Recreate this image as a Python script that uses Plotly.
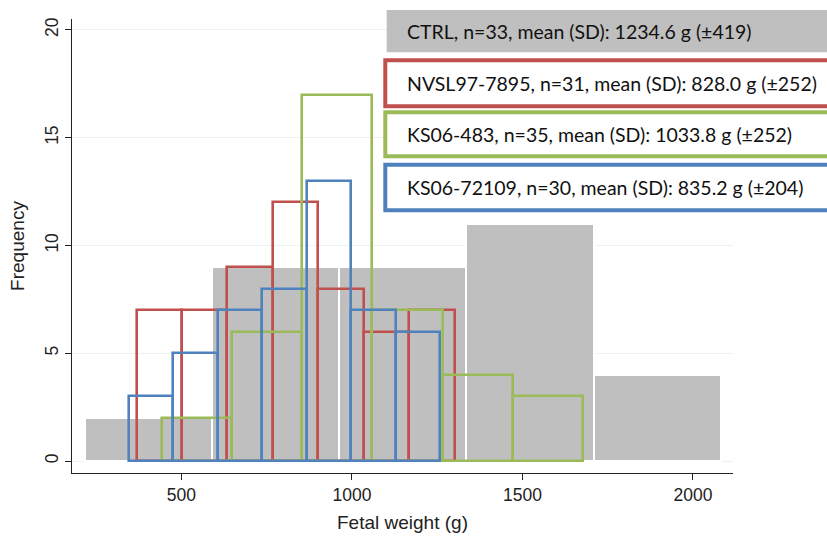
import plotly.graph_objects as go

# ---- data ----
ctrl_start, ctrl_width = 216.5, 373.0
ctrl_counts = [2, 9, 9, 11, 4]

nvsl_start, nvsl_width = 368.4, 133.3
nvsl_counts = [7, 7, 9, 12, 8, 6, 7]

ks483_start, ks483_width = 443.6, 205.5
ks483_counts = [2, 6, 17, 7, 4, 3]

ks72109_start, ks72109_width = 344.9, 130.5
ks72109_counts = [3, 5, 7, 8, 13, 7, 6]

legend_labels = [
    "CTRL, n=33, mean (SD): 1234.6 g (\u00b1419)",
    "NVSL97-7895, n=31, mean (SD): 828.0 g (\u00b1252)",
    "KS06-483, n=35, mean (SD): 1033.8 g (\u00b1252)",
    "KS06-72109, n=30, mean (SD): 835.2 g (\u00b1204)",
]

x_ticks = [500, 1000, 1500, 2000]
y_ticks = [0, 5, 10, 15, 20]

GRAY = "#BFBFBF"
RED = "#C0504D"
GREEN = "#9BBB59"
BLUE = "#4F81BD"


def centers(start, width, counts):
    return [start + width * (i + 0.5) for i in range(len(counts))]


fig = go.Figure()
fig.add_trace(go.Bar(
    x=centers(ctrl_start, ctrl_width, ctrl_counts), y=ctrl_counts,
    width=[ctrl_width] * len(ctrl_counts),
    marker=dict(color=GRAY, line=dict(color="white", width=2)),
    showlegend=False))
for start, width, counts, col in [
    (nvsl_start, nvsl_width, nvsl_counts, RED),
    (ks483_start, ks483_width, ks483_counts, GREEN),
    (ks72109_start, ks72109_width, ks72109_counts, BLUE),
]:
    fig.add_trace(go.Bar(
        x=centers(start, width, counts), y=counts,
        width=[width] * len(counts),
        marker=dict(color="rgba(0,0,0,0)", line=dict(color=col, width=2.6)),
        showlegend=False))

# plot area in pixels
L, R, T, B = 72, 733, 19, 473
W, H = R - L, B - T


def xp(px):
    return (px - L) / W


def yp(py):
    return (B - py) / H


shapes = [
    dict(type="rect", xref="paper", yref="paper", x0=xp(386.7), x1=xp(860),
         y0=yp(52.3), y1=yp(10), fillcolor=GRAY, line=dict(width=0), layer="above"),
]
boxes = [(60.3, 106.3, RED), (112.3, 156.3, GREEN), (164.7, 210.3, BLUE)]
for top, bot, col in boxes:
    shapes.append(dict(type="rect", xref="paper", yref="paper", x0=xp(385.3), x1=xp(860),
                       y0=yp(bot), y1=yp(top), fillcolor="white",
                       line=dict(color=col, width=4), layer="above"))

centers_y = [31.2, 83.3, 134.3, 187.5]
annotations = []
for lab, cy in zip(legend_labels, centers_y):
    annotations.append(dict(text=lab, xref="paper", yref="paper", x=xp(405), y=yp(cy),
                            xanchor="left", yanchor="middle", showarrow=False,
                            font=dict(family="Lato, sans-serif", size=19.5, color="#111")))

axis_font = dict(family="Liberation Sans, Arial, sans-serif", size=17.5, color="#222")
title_font = dict(family="Liberation Sans, Arial, sans-serif", size=19, color="#222")

fig.update_layout(
    width=827, height=536,
    margin=dict(l=L, r=827 - R, t=T, b=536 - B),
    paper_bgcolor="white", plot_bgcolor="white",
    barmode="overlay", bargap=0,
    shapes=shapes, annotations=annotations,
    xaxis=dict(range=[179, 2117.5], tickvals=x_ticks, ticks="outside", ticklen=6,
               tickcolor="#222", showline=True, linecolor="#222", linewidth=1.3,
               showgrid=False, zeroline=False, tickfont=axis_font, automargin=False,
               title=dict(text="Fetal weight (g)", font=title_font, standoff=11)),
    yaxis=dict(range=[-0.556, 20.51], tickvals=y_ticks, ticks="outside", ticklen=6,
               tickcolor="#222", showline=True, linecolor="#222", linewidth=1.3,
               showgrid=True, gridcolor="#EAF2F3", gridwidth=1.2, zeroline=False,
               tickangle=-90, tickfont=axis_font, automargin=False,
               title=dict(text="Frequency", font=title_font, standoff=12)),
)

fig.write_html("out.html", config={"displayModeBar": False},
               post_script="document.body.style.margin='0';document.body.style.overflow='hidden';")
